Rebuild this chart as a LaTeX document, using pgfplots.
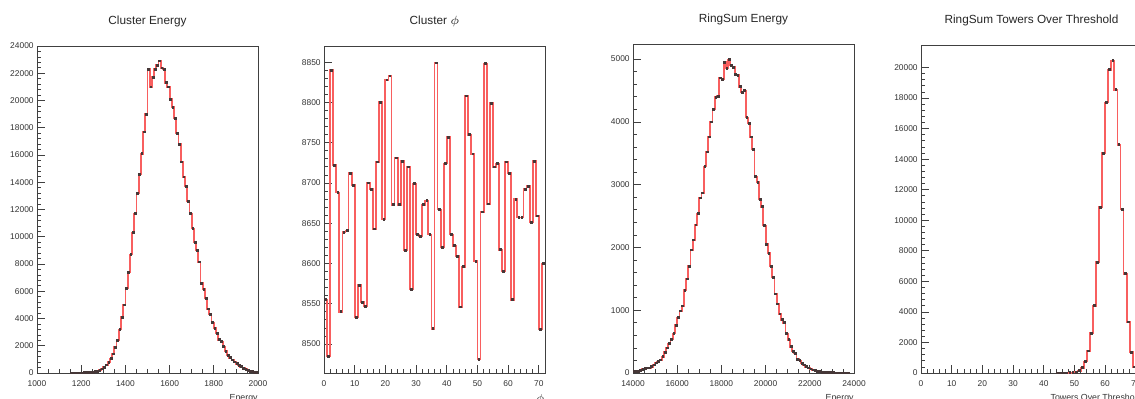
\documentclass[border=0pt]{standalone}
\usepackage{fontspec}
\setmainfont{Liberation Sans}
\usepackage{pgfplots}
\pgfplotsset{compat=1.18}
\usepackage{pgfplotstable}

\pgfplotstableread{
c v
1155 2
1165 3
1175 3
1185 5
1195 8
1205 15
1215 20
1225 25
1235 35
1245 45
1255 60
1265 90
1275 130
1285 200
1295 300
1305 430
1315 600
1325 800
1335 1050
1345 1400
1355 1900
1365 2400
1375 3200
1385 4100
1395 5000
1405 6200
1415 7400
1425 8700
1435 10300
1445 11700
1455 13200
1465 14600
1475 16100
1485 17700
1495 19000
1505 22300
1515 21000
1525 21700
1535 22300
1545 22600
1555 22900
1565 22400
1575 22300
1585 21300
1595 21000
1605 20100
1615 19500
1625 18700
1635 17600
1645 16800
1655 15500
1665 14400
1675 13700
1685 12600
1695 11700
1705 10600
1715 9600
1725 9000
1735 8150
1745 6600
1755 6150
1765 5500
1775 4700
1785 4300
1795 3700
1805 3300
1815 2900
1825 2450
1835 2300
1845 1950
1855 1600
1865 1300
1875 1120
1885 960
1895 820
1905 690
1915 570
1925 460
1935 360
1945 270
1955 200
1965 140
1975 90
1985 50
1995 20
}\tabA

\pgfplotstableread{
c v
0.5 8555
1.5 8485
2.5 8840
3.5 8722
4.5 8688
5.5 8540
6.5 8639
7.5 8641
8.5 8712
9.5 8697
10.5 8533
11.5 8573
12.5 8552
13.5 8547
14.5 8700
15.5 8692
16.5 8643
17.5 8726
18.5 8800
19.5 8655
20.5 8828
21.5 8833
22.5 8673
23.5 8731
24.5 8673
25.5 8727
26.5 8616
27.5 8720
28.5 8568
29.5 8699
30.5 8636
31.5 8634
32.5 8673
33.5 8678
34.5 8636
35.5 8519
36.5 8849
37.5 8667
38.5 8620
39.5 8724
40.5 8757
41.5 8636
42.5 8622
43.5 8609
44.5 8546
45.5 8596
46.5 8808
47.5 8760
48.5 8736
49.5 8603
50.5 8481
51.5 8664
52.5 8848
53.5 8674
54.5 8799
55.5 8720
56.5 8724
57.5 8617
58.5 8590
59.5 8726
60.5 8712
61.5 8555
62.5 8680
63.5 8657
64.5 8657
65.5 8692
66.5 8696
67.5 8651
68.5 8727
69.5 8659
70.5 8518
71.5 8600
}\tabB

\pgfplotstableread{
c v
14050 20
14150 30
14250 30
14350 40
14450 60
14550 70
14650 80
14750 80
14850 100
14950 130
15050 160
15150 180
15250 210
15350 260
15450 330
15550 400
15650 470
15750 540
15850 630
15950 760
16050 880
16150 990
16250 1070
16350 1320
16450 1500
16550 1700
16650 1960
16750 2120
16850 2360
16950 2540
17050 2790
17150 2870
17250 3290
17350 3520
17450 3760
17550 4000
17650 4200
17750 4390
17850 4410
17950 4700
18050 4680
18150 4950
18250 4850
18350 4990
18450 4900
18550 4870
18650 4750
18750 4740
18850 4560
18950 4470
19050 4500
19150 4070
19250 3980
19350 3760
19450 3560
19550 3130
19650 3040
19750 2770
19850 2650
19950 2350
20050 2050
20150 1910
20250 1700
20350 1520
20450 1260
20550 1100
20650 940
20750 850
20850 800
20950 630
21050 530
21150 420
21250 350
21350 310
21450 220
21550 200
21650 150
21750 130
21850 100
21950 80
22050 65
22150 50
22250 40
22350 30
22450 20
22550 15
22650 10
22750 8
22850 6
22950 5
23050 4
23150 3
23250 3
23350 2
23450 2
23550 2
23650 1
23750 1
}\tabC

\pgfplotstableread{
c v
44.5 2
45.5 3
46.5 5
47.5 8
48.5 15
49.5 30
50.5 60
51.5 150
52.5 350
53.5 750
54.5 1450
55.5 2600
56.5 4400
57.5 7250
58.5 10850
59.5 14400
60.5 17700
61.5 19850
62.5 20450
63.5 18550
64.5 14950
65.5 10700
66.5 6500
67.5 3350
68.5 1350
69.5 400
70.5 100
71.5 20
}\tabD

\definecolor{histred}{RGB}{248,95,95}
\definecolor{markgray}{RGB}{70,55,55}

\pgfplotsset{
  rootstyle/.style={
    scale only axis, anchor=south west,
    clip=false,
    tick align=inside, tick pos=left,
    major tick length=4pt, minor tick length=2pt,
    axis line style={black!75, line width=0.4pt},
    every tick/.style={black!75, line width=0.35pt},
    tick label style={font=\fontsize{4.2}{5}\selectfont, text=black!80},
    /pgf/number format/assume math mode=true,
    /pgf/number format/1000 sep={},
    scaled ticks=false,
    xticklabel style={inner sep=0pt, yshift=-3.5pt},
    yticklabel style={inner sep=0pt, xshift=-1.5pt},
    title style={at={(axis description cs:0.5,1)}, anchor=base, yshift=4.8pt,
      font=\fontsize{5.9}{7}\selectfont, inner sep=0pt, text=black!85},
    xlabel style={at={(axis description cs:1,0)}, anchor=north east, yshift=-10.5pt,
      inner sep=0pt, font=\fontsize{4.4}{5}\selectfont, text=black!80},
  },
  histline/.style={const plot mark mid, no marks, draw=histred, line width=0.9pt},
  histmarks/.style={only marks, mark=square*, mark size=0.45pt, color=markgray, mark options={draw=markgray, fill=markgray}},
}

\begin{document}
\begin{tikzpicture}
\useasboundingbox (0,0) rectangle (567.5pt,199pt);
\clip (0,0) rectangle (567.5pt,199pt);

\begin{axis}[rootstyle, at={(18.5pt,12.5pt)}, width=110.5pt, height=163.5pt,
  xmin=1000, xmax=2000, ymin=0, ymax=24000,
  xtick={1000,1200,...,2000}, ytick={0,2000,...,24000},
  minor x tick num=3, minor y tick num=4,
  title={Cluster Energy}, xlabel={Energy}]
\addplot[histline] table[x=c, y=v] {\tabA};
\addplot[histmarks] table[x=c, y=v] {\tabA};
\end{axis}

\begin{axis}[rootstyle, at={(162pt,12.5pt)}, width=110.5pt, height=163.5pt,
  xmin=0, xmax=72, ymin=8464, ymax=8870,
  xtick={0,10,...,70}, ytick={8500,8550,...,8850},
  minor x tick num=4, minor y tick num=4,
  title={Cluster $\phi$}, xlabel={$\phi$}]
\addplot[histline] table[x=c, y=v] {\tabB};
\addplot[histmarks] table[x=c, y=v] {\tabB};
\end{axis}

\begin{axis}[rootstyle, at={(316.5pt,12.5pt)}, width=110.5pt, height=164.5pt,
  xmin=14000, xmax=24000, ymin=0, ymax=5240,
  xtick={14000,16000,...,24000}, ytick={0,1000,...,5000},
  minor x tick num=3, minor y tick num=4,
  title={RingSum Energy}, xlabel={Energy}]
\addplot[histline] table[x=c, y=v] {\tabC};
\addplot[histmarks] table[x=c, y=v] {\tabC};
\end{axis}

\begin{axis}[rootstyle, at={(460.5pt,12.5pt)}, width=110.5pt, height=164pt,
  xmin=0, xmax=72, ymin=0, ymax=21470,
  xtick={0,10,...,70}, ytick={0,2000,...,20000},
  minor x tick num=4, minor y tick num=4,
  title={RingSum Towers Over Threshold}, xlabel={Towers Over Threshold}]
\addplot[histline] table[x=c, y=v] {\tabD};
\addplot[histmarks] table[x=c, y=v] {\tabD};
\end{axis}
\end{tikzpicture}
\end{document}
